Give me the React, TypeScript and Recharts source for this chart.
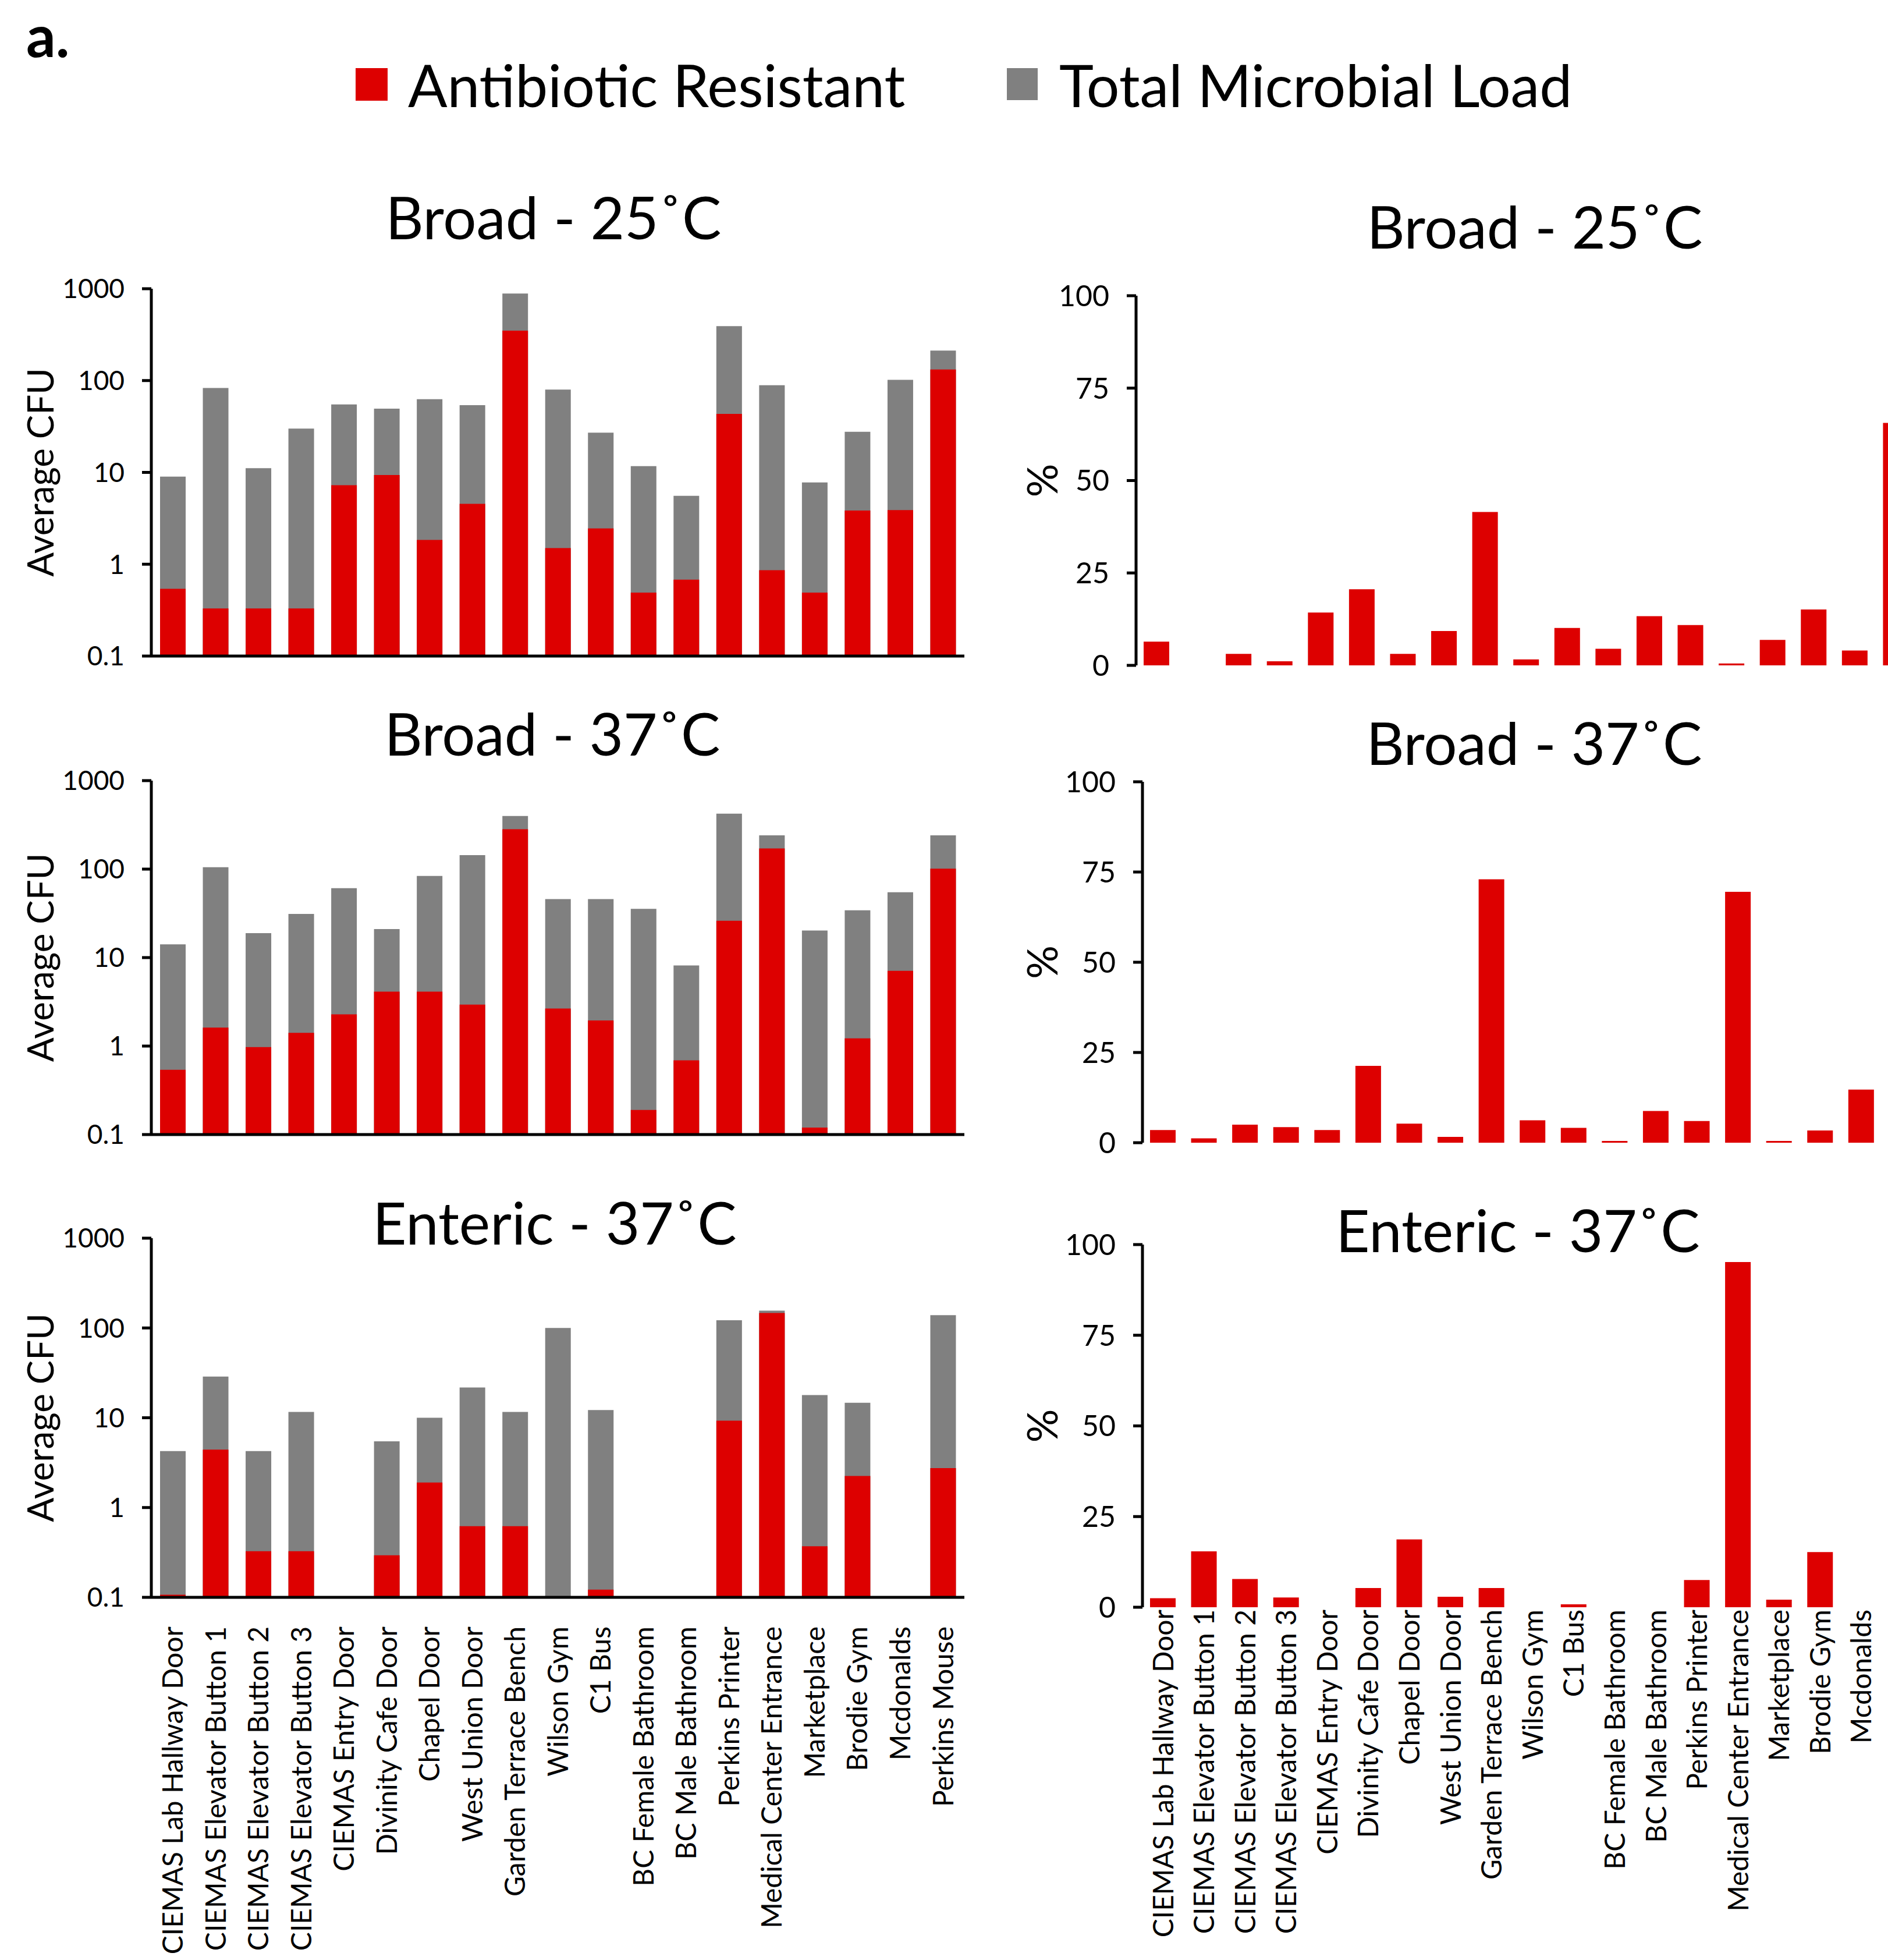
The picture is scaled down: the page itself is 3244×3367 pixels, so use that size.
import React from "react";
import { Bar, ComposedChart, Label, XAxis, YAxis } from "recharts";

const RED = "#dd0000";
const GREY = "#808080";
const FONT = "Lato, 'Open Sans', sans-serif";

const sites = [
  "CIEMAS Lab Hallway Door",
  "CIEMAS Elevator Button 1",
  "CIEMAS Elevator Button 2",
  "CIEMAS Elevator Button 3",
  "CIEMAS Entry Door",
  "Divinity Cafe Door",
  "Chapel Door",
  "West Union Door",
  "Garden Terrace Bench",
  "Wilson Gym",
  "C1 Bus",
  "BC Female Bathroom",
  "BC Male Bathroom",
  "Perkins Printer",
  "Medical Center Entrance",
  "Marketplace",
  "Brodie Gym",
  "Mcdonalds",
  "Perkins Mouse",
];

// average CFU, log axis (null = nothing plated)
const broad25Total = [9.0, 83, 11.1, 30, 55, 49.5, 62.6, 54, 887, 79.7, 27.1, 11.7, 5.55, 392, 89, 7.76, 27.7, 102, 212];
const broad25Res = [0.54, 0.33, 0.33, 0.33, 7.25, 9.35, 1.84, 4.54, 350, 1.5, 2.45, 0.49, 0.68, 43.3, 0.86, 0.49, 3.84, 3.89, 132];
const broad37Total = [14.1, 105, 18.9, 31.2, 61, 21.0, 83.8, 144, 398, 45.9, 45.9, 35.6, 8.15, 424, 241, 20.2, 34.2, 54.8, 241];
const broad37Res = [0.54, 1.62, 0.975, 1.41, 2.28, 4.13, 4.13, 2.94, 282, 2.66, 1.95, 0.19, 0.69, 26.1, 171, 0.12, 1.22, 7.09, 101];
const enteric37Total = [4.25, 28.7, 4.25, 11.6, null, 5.47, 10, 21.7, 11.6, 100, 12.2, null, null, 122, 156, 17.9, 14.7, null, 139];
const enteric37Res = [0.107, 4.41, 0.327, 0.327, null, 0.294, 1.9, 0.62, 0.62, null, 0.122, null, null, 9.27, 147, 0.37, 2.25, null, 2.75];

// percent resistant
const broad25Pct = [6.4, 0, 3.1, 1.1, 14.3, 20.6, 3.1, 9.3, 41.5, 1.6, 10.1, 4.5, 13.3, 10.9, 0.5, 6.9, 15.1, 4.0, 65.6];
const broad37Pct = [3.5, 1.2, 5.0, 4.3, 3.5, 21.3, 5.3, 1.6, 73.0, 6.2, 4.1, 0.5, 8.8, 6.0, 69.5, 0.5, 3.4, 14.7, 41.9];
const enteric37Pct = [2.5, 15.4, 7.8, 2.7, 0, 5.3, 18.7, 2.9, 5.3, 0, 0.8, 0, 0, 7.5, 95.2, 2.1, 15.2, 0, 2.0];

const logTicks = [0.1, 1, 10, 100, 1000];
const pctTicks = [0, 25, 50, 75, 100];
const boundaries = sites.map((_, i) => i).concat(sites.length);

const axisStroke = { stroke: "#000", strokeWidth: 5 };

function SiteTick(props: any) {
  const { x, y, payload } = props;
  return (
    <text
      x={x}
      y={y}
      transform={`rotate(-90, ${x}, ${y})`}
      textAnchor="end"
      dy="0.36em"
      fontSize={48}
      fontFamily={FONT}
      fill="#000"
    >
      {payload.value}
    </text>
  );
}

function axisTitle(text: string, dx: number, size: number) {
  return (p: any) => {
    const vb = p.viewBox || {};
    const x = vb.x + dx;
    const y = vb.y + vb.height / 2;
    return (
      <text
        x={x}
        y={y}
        transform={`rotate(-90, ${x}, ${y})`}
        textAnchor="middle"
        fontSize={size}
        fontFamily={FONT}
        fill="#000"
      >
        {text}
      </text>
    );
  };
}

const M_TOP = 30;
const LABEL_H = 620;

function LogPanel({ top, height, total, resistant, labels }: any) {
  const data = sites.map((name, i) => ({ name, total: total[i], resistant: resistant[i] }));
  const plotW = 1397;
  const yw = 260;
  const h = M_TOP + height + 20 + (labels ? LABEL_H : 0) + 10;
  return (
    <div style={{ position: "absolute", left: 0, top: top - M_TOP }}>
      <ComposedChart
        width={yw + plotW + 40}
        height={h}
        data={data}
        margin={{ top: M_TOP, right: 40, bottom: 10, left: 0 }}
      >
        <XAxis
          xAxisId="grid"
          type="number"
          domain={[0, sites.length]}
          ticks={boundaries}
          allowDataOverflow
          interval={0}
          tick={false}
          tickSize={15}
          height={20}
          axisLine={axisStroke}
          tickLine={axisStroke}
        />
        <XAxis
          xAxisId="total"
          dataKey="name"
          hide={!labels}
          height={LABEL_H}
          interval={0}
          axisLine={false}
          tickLine={false}
          tickSize={0}
          tickMargin={0}
          tick={<SiteTick />}
        />
        <XAxis xAxisId="res" dataKey="name" hide />
        <YAxis
          type="number"
          scale="log"
          domain={[0.1, 1000]}
          allowDataOverflow
          ticks={logTicks}
          interval={0}
          width={yw}
          tickSize={16}
          tickMargin={30}
          axisLine={axisStroke}
          tickLine={axisStroke}
          tick={{ fontSize: 46, fill: "#000", fontFamily: FONT }}
          tickFormatter={(v: number) => String(v)}
        >
          <Label content={axisTitle("Average CFU", 92, 62)} />
        </YAxis>
        <Bar xAxisId="total" dataKey="total" name="Total Microbial Load" fill={GREY} barSize={44} isAnimationActive={false} />
        <Bar xAxisId="res" dataKey="resistant" name="Antibiotic Resistant" fill={RED} barSize={44} isAnimationActive={false} />
      </ComposedChart>
    </div>
  );
}

function PctPanel({ top, height, plotLeft, pct, labels }: any) {
  const data = sites.map((name, i) => ({ name, pct: pct[i] }));
  const left = 1740;
  const yw = plotLeft - left;
  const plotW = 1341;
  const h = M_TOP + height + 20 + (labels ? LABEL_H : 0) + 10;
  return (
    <div style={{ position: "absolute", left, top: top - M_TOP }}>
      <ComposedChart
        width={yw + plotW + 20}
        height={h}
        data={data}
        margin={{ top: M_TOP, right: 20, bottom: 10, left: 0 }}
      >
        <XAxis
          xAxisId="grid"
          type="number"
          domain={[0, sites.length]}
          ticks={boundaries}
          allowDataOverflow
          interval={0}
          tick={false}
          tickSize={15}
          height={20}
          axisLine={axisStroke}
          tickLine={axisStroke}
        />
        <XAxis
          xAxisId="cat"
          dataKey="name"
          hide={!labels}
          height={LABEL_H}
          interval={0}
          axisLine={false}
          tickLine={false}
          tickSize={0}
          tickMargin={4}
          tick={<SiteTick />}
        />
        <YAxis
          type="number"
          domain={[0, 100]}
          ticks={pctTicks}
          interval={0}
          width={yw}
          tickSize={16}
          tickMargin={30}
          axisLine={axisStroke}
          tickLine={axisStroke}
          tick={{ fontSize: 50, fill: "#000", fontFamily: FONT }}
        >
          <Label content={axisTitle("%", 77, 72)} />
        </YAxis>
        <Bar xAxisId="cat" dataKey="pct" name="Antibiotic Resistant" fill={RED} barSize={44} isAnimationActive={false} />
      </ComposedChart>
    </div>
  );
}

export default function App() {
  return (
    <div
      style={{
        position: "absolute",
        left: 0,
        top: 0,
        width: 3244,
        height: 3367,
        overflow: "hidden",
        background: "#fff",
      }}
    >
      <LogPanel top={496} height={631} total={broad25Total} resistant={broad25Res} labels={false} />
      <LogPanel top={1341} height={608} total={broad37Total} resistant={broad37Res} labels={false} />
      <LogPanel top={2127} height={617} total={enteric37Total} resistant={enteric37Res} labels />
      <PctPanel top={508} height={635} plotLeft={1952} pct={broad25Pct} labels={false} />
      <PctPanel top={1343} height={620} plotLeft={1963} pct={broad37Pct} labels={false} />
      <PctPanel top={2138} height={623} plotLeft={1963} pct={enteric37Pct} labels />

      <svg
        width={3244}
        height={3367}
        style={{ position: "absolute", left: 0, top: 0, pointerEvents: "none" }}
        fontFamily={FONT}
      >
        <text x={45} y={98} fontSize={100} fontWeight={700}>a.</text>
        <rect x={611} y={117} width={55} height={56} fill={RED} />
        <text x={701} y={184} fontSize={100}>Antibiotic Resistant</text>
        <rect x={1730} y={117} width={53} height={55} fill={GREY} />
        <text x={1820} y={184} fontSize={100}>Total Microbial Load</text>

        <text x={951} y={411} fontSize={101} textAnchor="middle">Broad - 25˚C</text>
        <text x={2637} y={427} fontSize={101} textAnchor="middle">Broad - 25˚C</text>
        <text x={949} y={1298} fontSize={101} textAnchor="middle">Broad - 37˚C</text>
        <text x={2636} y={1314} fontSize={101} textAnchor="middle">Broad - 37˚C</text>
        <text x={953} y={2138} fontSize={101} textAnchor="middle">Enteric - 37˚C</text>
        <text x={2608} y={2151} fontSize={101} textAnchor="middle">Enteric - 37˚C</text>
      </svg>
    </div>
  );
}
